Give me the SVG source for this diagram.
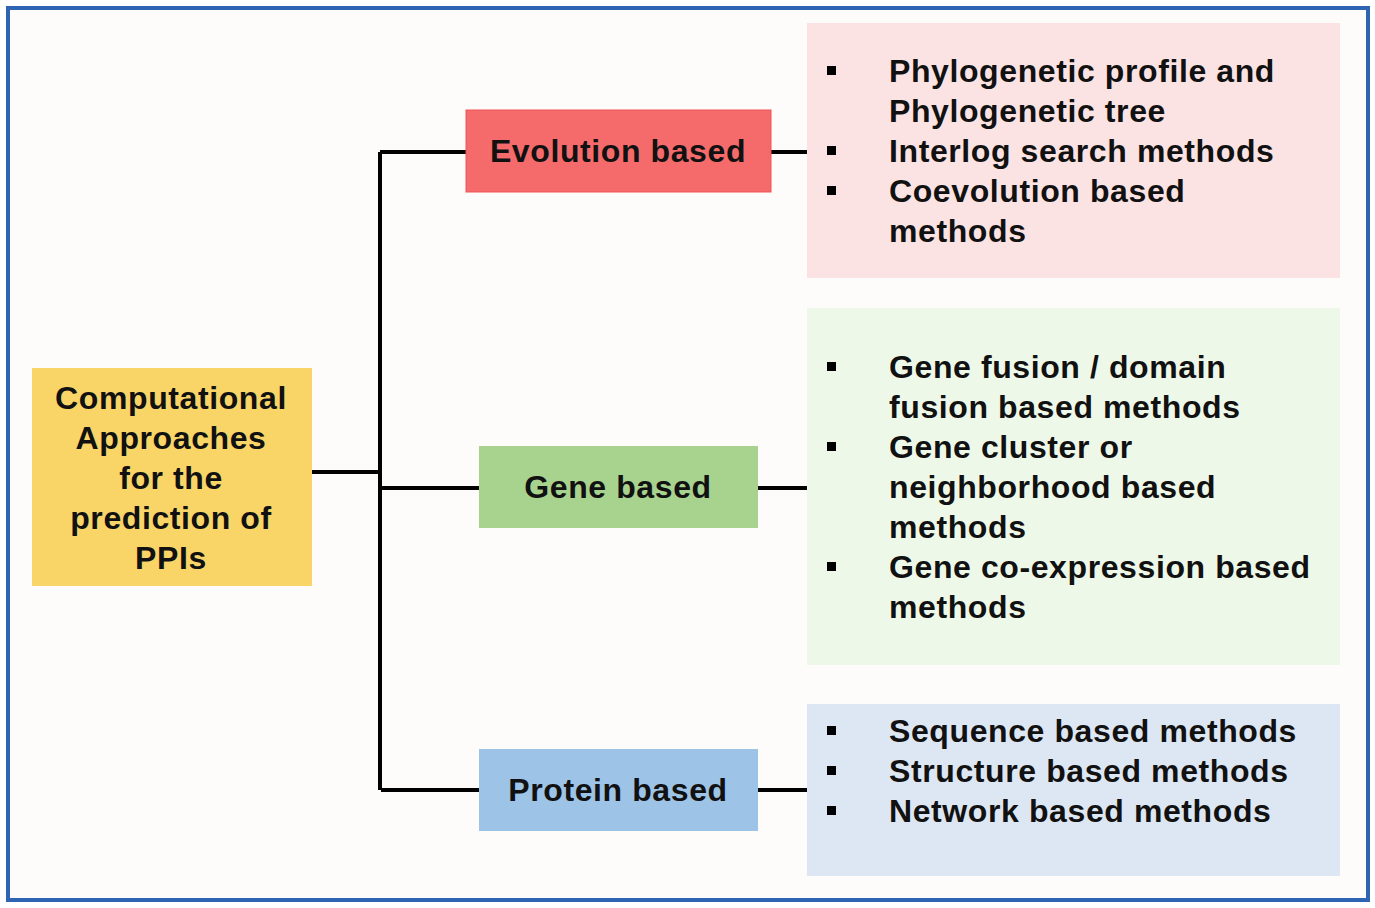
<svg xmlns="http://www.w3.org/2000/svg" width="1375" height="908" viewBox="0 0 1375 908">
<style>
text{font-family:"Liberation Sans",Arial,sans-serif;font-weight:bold;font-size:32px;letter-spacing:0.6px;fill:#111}
.c{text-anchor:middle}
.ln{stroke:#000;stroke-width:4;fill:none}
.b{fill:#000}
</style>
<rect x="0" y="0" width="1375" height="908" fill="#fff"/>
<rect x="8" y="8" width="1360" height="892" fill="#fdfcfa" stroke="#2f64b3" stroke-width="4"/>
<g id="connectors">
<path class="ln" d="M312,472H381M380,152V790M380,152H466M380,488H479M381,790H479M771,152H807M758,488H807M758,790H807"/>
</g>
<g id="root">
<rect x="32" y="368" width="280" height="218" fill="#f9d568"/>
<text class="c" x="171" y="409">Computational</text>
<text class="c" x="171" y="449">Approaches</text>
<text class="c" x="171" y="489">for the</text>
<text class="c" x="171" y="529">prediction of</text>
<text class="c" x="171" y="569">PPIs</text>
</g>
<g id="evolution">
<rect x="466" y="110" width="305" height="82" fill="#f56b6b" stroke="#e55" stroke-width="1"/>
<text class="c" x="618" y="162">Evolution based</text>
</g>
<g id="gene">
<rect x="479" y="446" width="279" height="82" fill="#a8d38e"/>
<text class="c" x="618" y="498">Gene based</text>
</g>
<g id="protein">
<rect x="479" y="749" width="279" height="82" fill="#9dc3e6"/>
<text class="c" x="618" y="801">Protein based</text>
</g>
<g id="evolution-list">
<rect x="807" y="23" width="533" height="255" fill="#fce3e3"/>
<rect class="b" x="827" y="66" width="9" height="9"/>
<rect class="b" x="827" y="146" width="9" height="9"/>
<rect class="b" x="827" y="186" width="9" height="9"/>
<text x="889" y="82">Phylogenetic profile and</text>
<text x="889" y="122">Phylogenetic tree</text>
<text x="889" y="162">Interlog search methods</text>
<text x="889" y="202">Coevolution based</text>
<text x="889" y="242">methods</text>
</g>
<g id="gene-list">
<rect x="807" y="308" width="533" height="357" fill="#eef8e8"/>
<rect class="b" x="827" y="362" width="9" height="9"/>
<rect class="b" x="827" y="442" width="9" height="9"/>
<rect class="b" x="827" y="562" width="9" height="9"/>
<text x="889" y="378">Gene fusion / domain</text>
<text x="889" y="418">fusion based methods</text>
<text x="889" y="458">Gene cluster or</text>
<text x="889" y="498">neighborhood based</text>
<text x="889" y="538">methods</text>
<text x="889" y="578">Gene co-expression based</text>
<text x="889" y="618">methods</text>
</g>
<g id="protein-list">
<rect x="807" y="704" width="533" height="172" fill="#dde7f3"/>
<rect class="b" x="827" y="726" width="9" height="9"/>
<rect class="b" x="827" y="766" width="9" height="9"/>
<rect class="b" x="827" y="806" width="9" height="9"/>
<text x="889" y="742">Sequence based methods</text>
<text x="889" y="782">Structure based methods</text>
<text x="889" y="822">Network based methods</text>
</g>
</svg>
